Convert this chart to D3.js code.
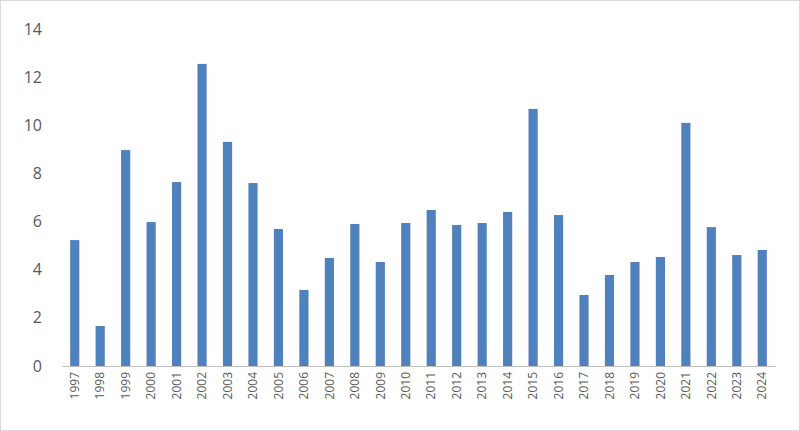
<!DOCTYPE html>
<html>
<head>
<meta charset="utf-8">
<script src="https://cdn.jsdelivr.net/npm/d3@7"></script>
<style>
body { margin: 0; background: #fff; }
</style>
</head>
<body>
<div id="chart_div"></div>
<script>
var years = ["1997","1998","1999","2000","2001","2002","2003","2004","2005","2006","2007","2008","2009","2010",
             "2011","2012","2013","2014","2015","2016","2017","2018","2019","2020","2021","2022","2023","2024"];
var values = [5.23, 1.66, 8.97, 5.98, 7.64, 12.55, 9.31, 7.6, 5.69, 3.16, 4.49, 5.9, 4.32, 5.94,
              6.48, 5.86, 5.94, 6.4, 10.68, 6.27, 2.95, 3.78, 4.32, 4.53, 10.1, 5.77, 4.61, 4.82];
var yTicks = [0, 2, 4, 6, 8, 10, 12, 14];

var width = 800, height = 431;
var marginLeft = 62, marginRight = 25, marginTop = 29, marginBottom = 65;

var svg = d3.select("#chart_div").append("svg")
    .attr("width", width)
    .attr("height", height)
    .style("font-family", "'Open Sans', sans-serif");

// chart border
svg.append("rect")
    .attr("x", 0.5).attr("y", 0.5)
    .attr("width", width - 1).attr("height", height - 1)
    .attr("fill", "#fff")
    .attr("stroke", "#d9d9d9");

var x = d3.scaleBand()
    .domain(years)
    .range([marginLeft, width - marginRight])
    .paddingInner(0.64)
    .paddingOuter(0.32);

var y = d3.scaleLinear()
    .domain([0, 14])
    .range([height - marginBottom, marginTop]);

// bars
svg.append("g")
    .attr("fill", "#4f81bd")
  .selectAll("rect")
  .data(values)
  .join("rect")
    .attr("x", (d, i) => x(years[i]))
    .attr("y", d => y(d))
    .attr("width", x.bandwidth())
    .attr("height", d => y(0) - y(d));

// y axis labels
svg.append("g")
    .attr("transform", `translate(${marginLeft},0)`)
    .call(d3.axisLeft(y).tickValues(yTicks).tickSize(0).tickPadding(20))
    .call(g => g.select(".domain").remove())
    .call(g => g.selectAll("text")
        .attr("fill", "#595959")
        .style("font-size", "16px")
        .style("font-family", "'Open Sans', sans-serif"));

// x axis
svg.append("g")
    .attr("transform", `translate(0,${y(0)})`)
    .call(d3.axisBottom(x).tickSize(0).tickPadding(6))
    .call(g => g.select(".domain").attr("stroke", "#bfbfbf"))
    .call(g => g.selectAll("text")
        .attr("fill", "#595959")
        .style("font-size", "12px")
        .style("font-family", "'Open Sans', sans-serif")
        .attr("text-anchor", "end")
        .attr("transform", "rotate(-90)")
        .attr("x", -6)
        .attr("y", 0)
        .attr("dy", "0.35em"));
</script>
</body>
</html>
